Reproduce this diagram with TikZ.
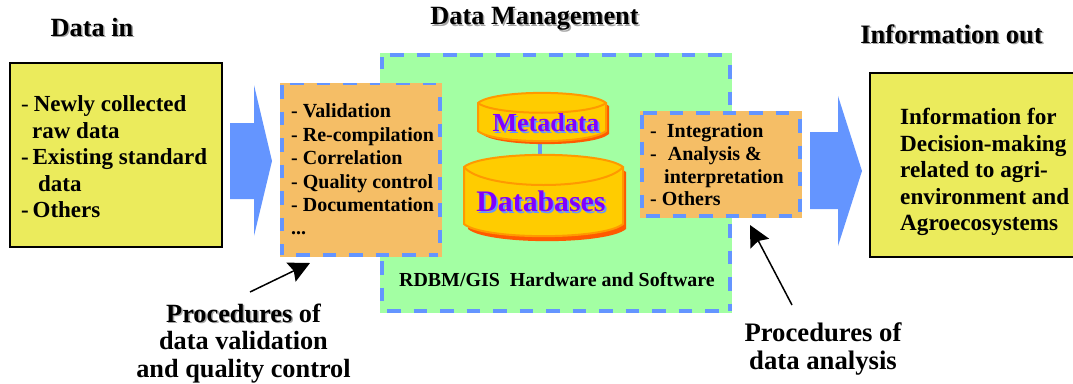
\documentclass[tikz,border=0pt]{standalone}
\usepackage{fontspec}
\setmainfont{Liberation Serif}
\definecolor{boxyellow}{HTML}{EBEB5C}
\definecolor{mgmtgreen}{HTML}{A3FFA3}
\definecolor{procorange}{HTML}{F5BE66}
\definecolor{flowblue}{HTML}{6495FF}
\definecolor{cylfill}{HTML}{FFCC00}
\definecolor{cylline}{HTML}{FF9900}
\definecolor{cylshadow}{HTML}{FF5A00}
\definecolor{dbtext}{HTML}{7F00FF}
\newcommand{\shtext}[4]{\leavevmode\rlap{\raisebox{-#3pt}{\hspace{#2pt}\textcolor{#1}{#4}}}#4}
\newcommand{\bodyfont}[2]{\fontsize{#1}{#2}\selectfont\bfseries}
\newcommand{\cylinderpath}[5]{%
  (#1,#2) .. controls ({#1+0.12*(#3-#1)},{#2-1.35*#5}) and ({#3-0.12*(#3-#1)},{#2-1.35*#5}) .. (#3,#2)
  -- (#3,#4) .. controls ({#3-0.12*(#3-#1)},{#4+1.35*#5}) and ({#1+0.12*(#3-#1)},{#4+1.35*#5}) .. (#1,#4) -- cycle}
\usetikzlibrary{arrows.meta,calc}
\tikzset{
  inbox/.style={draw=black,line width=2.5pt,fill=boxyellow},
  mgmtbox/.style={fill=mgmtgreen},
  procbox/.style={fill=procorange},
  blueedge/.style={draw=flowblue,line width=3.8pt,dash pattern=on 13.5pt off 13pt},
  blockarrow/.style={fill=flowblue},
  txt/.style={inner sep=0pt,align=left,anchor=west,text=black},
  ctxt/.style={inner sep=0pt,align=center,text=black},
  thinarrow/.style={draw=black,line width=1.5pt,-{Stealth[length=21pt,width=21pt,inset=3pt]}},
  cylbody/.style={fill=cylfill,draw=cylline,line width=2pt},
  cylback/.style={fill=cylshadow},
  cyltop/.style={draw=cylline,line width=2pt},
}
\begin{document}
\begin{tikzpicture}[x=1pt,y=-1pt]
\useasboundingbox (0,0) rectangle (1073,383);
% management panel
\path[mgmtbox] (380,53) rectangle (732,313);
\draw[blueedge] (390,55) -- (730,55);
\draw[blueedge] (730,65) -- (730,311);
\draw[blueedge] (387,311) -- (730,311);
\draw[blueedge] (382,57) -- (382,69);
\draw[blueedge] (382,261) -- (382,311);
% data in
\draw[inbox] (10,63) rectangle (222,247);
\node[txt,font=\bodyfont{23}{26.5}] (intext) at (21,157) {{\mdseries-}\hspace{5pt}Newly collected\\\hspace*{11pt}raw data\\-\hspace{3.8pt}Existing standard\\\hspace*{17pt}data\\-\hspace{3.8pt}Others};
% block arrows
\path[blockarrow] (230,123) -- (254,123) -- (254,85) -- (272,161) -- (254,236) -- (254,199) -- (230,199) -- cycle;
\path[blockarrow] (810,132) -- (838,132) -- (838,96) -- (862,171) -- (838,246) -- (838,209) -- (810,209) -- cycle;
% validation box
\path[procbox] (280,83) rectangle (442,257);
\draw[blueedge,line width=2pt] (396,84) -- (442,84) (290,84) -- (380,84);
\draw[blueedge] (296,255) -- (438,255);
\draw[blueedge] (282,85) -- (282,255);
\draw[blueedge] (440,97) -- (440,253);
\node[txt,font=\bodyfont{20}{23.4}] (valtext) at (291,169.5) {- Validation\\- Re-compilation\\- Correlation\\- Quality control\\- Documentation\\...};
% analysis box
\path[procbox] (640,111) rectangle (802,217.5);
\draw[blueedge] (643,113) -- (800,113);
\draw[blueedge] (646,216) -- (800,216);
\draw[blueedge] (642,115) -- (642,215);
\draw[blueedge] (800,119) -- (800,215);
\node[txt,font=\bodyfont{20}{22.7}] (anatext) at (650,165) {-\ \ Integration\\-\hspace{11pt}Analysis \&\\\hspace*{14pt}interpretation\\- Others};
% connector between stores
\coordinate (metaBottom) at (540,135);
\coordinate (dbTop) at (540,160);
\draw[flowblue,line width=3.5pt] (metaBottom) -- (dbTop);
% metadata cylinder
\path[cylback,shift={(3,3)}] \cylinderpath{479}{103}{606}{131}{10};
\path[cylbody] \cylinderpath{478}{103}{606}{131}{10};
\draw[cyltop] (478,103) .. controls (495,116) and (589,116) .. (606,103);
\node[ctxt,font=\fontsize{26}{26}\selectfont\bfseries] (meta) at (546,124) {\textcolor{dbtext}{\shtext{flowblue}{1.8}{1.8}{Metadata}}};
% databases cylinder
\path[cylback,shift={(4,5)}] \cylinderpath{464}{167}{622}{224}{12};
\path[cylbody] \cylinderpath{464}{167}{623}{224}{12};
\draw[cyltop] (464,167) .. controls (484,191) and (603,191) .. (623,167);
\node[ctxt,font=\fontsize{29.8}{29.8}\selectfont\bfseries] (dbs) at (541,202) {\textcolor{dbtext}{\shtext{flowblue}{1.8}{1.8}{Databases}}};
% software label
\node[txt,font=\bodyfont{19.9}{24}] (rdbm) at (399,280) {RDBM/GIS\ \ Hardware and Software};
% information out
\draw[inbox] (870,73) rectangle (1077,257);
\node[txt,font=\bodyfont{23.2}{26.5}] (outtext) at (900,172) {Information for\\Decision-making\\related to agri-\\environment and\\Agroecosystems};
% titles
\node[ctxt,font=\bodyfont{26.3}{26}] (titleIn) at (92,28) {\shtext{black!35}{1.5}{1.5}{Data in}};
\node[ctxt,font=\bodyfont{26.3}{26}] (titleMgmt) at (534.5,20) {\shtext{black!35}{1.5}{1.5}{Data Management}};
\node[ctxt,font=\bodyfont{26.6}{26}] (titleOut) at (951.5,35) {\shtext{black!35}{1.5}{1.5}{Information out}};
% procedures labels
\node[ctxt,font=\bodyfont{26.3}{27.5}] (procL) at (243.5,343.5) {\shtext{black!35}{1.5}{1.5}{Procedures} of\\data validation\\and quality control};
\node[ctxt,font=\bodyfont{26.7}{28}] (procR) at (823,349) {Procedures of\\data analysis};
% pointers
\coordinate (valPoint) at (310,263);
\coordinate (valStart) at (250,292);
\coordinate (anaPoint) at (750,225);
\coordinate (anaStart) at (792,305);
\draw[thinarrow] (valStart) -- (valPoint);
\draw[thinarrow] (anaStart) -- (anaPoint);
\end{tikzpicture}
\end{document}
